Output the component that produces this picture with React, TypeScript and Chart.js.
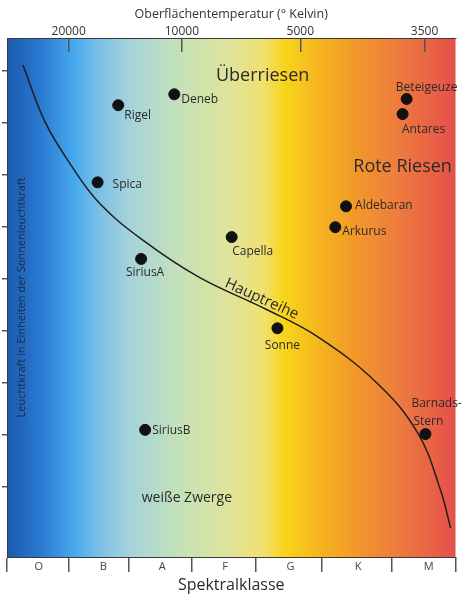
import React, { useEffect, useRef } from 'react';
import { Chart, registerables } from 'chart.js';

Chart.register(...registerables);

// ---- data ----
const spectralClasses = ['O', 'B', 'A', 'F', 'G', 'K', 'M'];
const classCenters = [7.1, 21.5, 34.6, 48.6, 63.2, 78.3, 94.0];
const classBoundaries = [0, 13.75, 27.05, 41.24, 55.43, 70.07, 85.81, 100];

const temperatureTicks = [13.75, 39.0, 65.4, 93.1];
const temperatureLabels = ['20000', '10000', '5000', '3500'];

const luminosityTicks = [-3, -2, -1, 0, 1, 2, 3, 4, 5];

const starNames = ['Rigel', 'Deneb', 'Spica', 'SiriusA', 'Capella', 'Sonne', 'SiriusB', 'Aldebaran', 'Arkurus', 'Beteigeuze', 'Antares', 'Barnads-Stern'];
const starX = [24.8, 37.3, 20.2, 29.9, 50.1, 60.3, 30.8, 75.6, 73.2, 89.1, 88.2, 93.3];
const starY = [4.33, 4.54, 2.85, 1.38, 1.80, 0.05, -1.90, 2.39, 1.99, 4.45, 4.16, -1.98];

const mainSeqX = [3.55, 8.43, 13.97, 20.62, 30.6, 42.79, 57.65, 69.4, 82.71, 91.57, 96.67, 98.89];
const mainSeqY = [5.10, 4.02, 3.22, 2.45, 1.72, 1.03, 0.42, -0.12, -1.02, -1.96, -3.06, -3.78];

const regionNames = ['Überriesen', 'Rote Riesen', 'weiße Zwerge', 'Hauptreihe'];
const regionX = [57.0, 88.2, 40.1, 56.8];
const regionY = [4.89, 3.14, -3.21, 0.61];

// ---- styles / placement ----
const FONT = '"Open Sans", "DejaVu Sans", sans-serif';
const TEXT = '#2a2a2a';
const starLabelLayout: { dx: number; dy: number; align: CanvasTextAlign }[] = [
  { dx: 6, dy: 10, align: 'left' },
  { dx: 7, dy: 5, align: 'left' },
  { dx: 15, dy: 2, align: 'left' },
  { dx: 4, dy: 14, align: 'center' },
  { dx: 21, dy: 15, align: 'center' },
  { dx: 5, dy: 17, align: 'center' },
  { dx: 7, dy: 1, align: 'left' },
  { dx: 9, dy: -1, align: 'left' },
  { dx: 7, dy: 4, align: 'left' },
  { dx: 20, dy: -11, align: 'center' },
  { dx: 21, dy: 15, align: 'center' },
  { dx: -14, dy: -30, align: 'left' },
];
const regionFontSize = [18, 18, 14, 15];
const regionRotation = [0, 0, 0, 24.5];

const gradientStops: [number, string][] = [
  [0, '#1b5aae'],
  [0.073, '#2a78d0'],
  [0.151, '#47aaee'],
  [0.206, '#7cc0e6'],
  [0.273, '#a4d3da'],
  [0.384, '#c4e1b8'],
  [0.494, '#dfe49c'],
  [0.572, '#f0e070'],
  [0.616, '#f8d61c'],
  [0.694, '#f5b61f'],
  [0.772, '#f29a28'],
  [0.871, '#ee7c3e'],
  [1, '#e4504a'],
];

const backgroundPlugin = {
  id: 'spectrumBackground',
  beforeDraw(chart: any) {
    const { ctx, chartArea } = chart;
    const g = ctx.createLinearGradient(chartArea.left, 0, chartArea.right, 0);
    gradientStops.forEach(([o, c]) => g.addColorStop(o, c));
    ctx.save();
    ctx.fillStyle = g;
    ctx.fillRect(chartArea.left, chartArea.top, chartArea.right - chartArea.left, chartArea.bottom - chartArea.top);
    ctx.restore();
  },
};

const labelsPlugin = {
  id: 'hrLabels',
  afterDatasetsDraw(chart: any) {
    const { ctx } = chart;
    const xs = chart.scales.x;
    const ys = chart.scales.y;
    ctx.save();
    ctx.fillStyle = TEXT;
    ctx.textBaseline = 'middle';
    // star labels
    const meta = chart.getDatasetMeta(1);
    ctx.font = `12px ${FONT}`;
    meta.data.forEach((pt: any, i: number) => {
      const lay = starLabelLayout[i];
      const name = starNames[i];
      const lines = name.includes('-') ? [name.slice(0, name.indexOf('-') + 1), name.slice(name.indexOf('-') + 1)] : [name];
      ctx.textAlign = lay.align;
      lines.forEach((ln, k) => {
        ctx.fillText(ln, pt.x + lay.dx + (k > 0 ? 2 : 0), pt.y + lay.dy + k * 18);
      });
    });
    // region labels
    regionNames.forEach((name, i) => {
      const px = xs.getPixelForValue(regionX[i]);
      const py = ys.getPixelForValue(regionY[i]);
      ctx.save();
      ctx.translate(px, py);
      ctx.rotate((regionRotation[i] * Math.PI) / 180);
      ctx.font = `${regionFontSize[i]}px ${FONT}`;
      ctx.textAlign = 'center';
      ctx.fillText(name, 0, 0);
      ctx.restore();
    });
    ctx.restore();
  },
};

export default function App() {
  const ref = useRef<HTMLCanvasElement | null>(null);

  useEffect(() => {
    document.body.style.margin = '0';
    const canvas = ref.current;
    if (!canvas) return;
    const chart = new Chart(canvas, {
      type: 'scatter',
      data: {
        datasets: [
          {
            type: 'line',
            label: 'Hauptreihe',
            data: mainSeqX.map((x, i) => ({ x, y: mainSeqY[i] })),
            borderColor: '#1e1e1e',
            borderWidth: 1.5,
            pointRadius: 0,
            fill: false,
            tension: 0.4,
          },
          {
            label: 'Sterne',
            data: starX.map((x, i) => ({ x, y: starY[i] })),
            backgroundColor: '#111111',
            borderColor: '#111111',
            pointRadius: 5.5,
            pointHoverRadius: 5.5,
          },
        ],
      },
      options: {
        responsive: false,
        animation: false,
        events: [],
        layout: { padding: { left: 0, right: 4, top: 0, bottom: 0 } },
        plugins: { legend: { display: false }, tooltip: { enabled: false } },
        scales: {
          x: {
            type: 'linear',
            position: 'bottom',
            min: 0,
            max: 100,
            afterFit: (s: any) => { s.height = 38; },
            afterBuildTicks: (s: any) => {
              const vals = [...classBoundaries, ...classCenters].sort((a, b) => a - b);
              s.ticks = vals.map((v) => ({ value: v }));
            },
            border: { display: true, color: '#3a3a3a', width: 1 },
            grid: {
              drawOnChartArea: false,
              tickLength: 15,
              lineWidth: 1.5,
              color: (ctx: any) => (ctx.tick && classBoundaries.includes(ctx.tick.value) ? '#555555' : 'rgba(0,0,0,0)'),
            },
            ticks: {
              autoSkip: false,
              maxRotation: 0,
              padding: -12,
              color: '#444444',
              font: { family: FONT, size: 11 },
              callback: (v: any) => {
                const idx = classCenters.indexOf(Number(v));
                return idx >= 0 ? spectralClasses[idx] : '';
              },
            },
            title: {
              display: true,
              text: 'Spektralklasse',
              color: TEXT,
              font: { family: FONT, size: 16 },
              padding: { top: 0, bottom: 0 },
            },
          },
          xTop: {
            type: 'linear',
            position: 'top',
            min: 0,
            max: 100,
            afterFit: (s: any) => { s.height = 38; },
            afterBuildTicks: (s: any) => {
              s.ticks = temperatureTicks.map((v) => ({ value: v }));
            },
            border: { display: true, color: '#3a3a3a', width: 1 },
            grid: {
              drawOnChartArea: false,
              tickLength: -14,
              lineWidth: 1.5,
              color: '#555555',
            },
            ticks: {
              autoSkip: false,
              maxRotation: 0,
              padding: 13,
              color: '#333333',
              font: { family: FONT, size: 12 },
              callback: (v: any) => {
                const idx = temperatureTicks.indexOf(Number(v));
                return idx >= 0 ? temperatureLabels[idx] : '';
              },
            },
            title: {
              display: true,
              text: 'Oberflächentemperatur (° Kelvin)',
              color: '#333333',
              font: { family: FONT, size: 12.5 },
              padding: { top: 7, bottom: 0 },
            },
          },
          y: {
            type: 'linear',
            position: 'left',
            min: -4.34,
            max: 5.62,
            afterFit: (s: any) => { s.width = 7; },
            afterBuildTicks: (s: any) => {
              s.ticks = luminosityTicks.map((v) => ({ value: v }));
            },
            border: { display: true, color: '#3a3a3a', width: 1 },
            grid: {
              drawOnChartArea: false,
              tickLength: 5,
              lineWidth: 1.5,
              color: '#555555',
            },
            ticks: { display: false },
            title: {
              display: true,
              text: 'Leuchtkraft in Einheiten der Sonnenleuchtkraft',
              color: '#1c2a3a',
              font: { family: FONT, size: 11 },
              padding: { top: 15.4, bottom: 0 },
            },
          },
        },
      },
      plugins: [backgroundPlugin, labelsPlugin],
    });
    return () => chart.destroy();
  }, []);

  return (
    <div style={{ width: 462, height: 595, background: '#ffffff' }}>
      <canvas ref={ref} width={462} height={595} style={{ width: 462, height: 595, display: 'block' }} />
    </div>
  );
}
